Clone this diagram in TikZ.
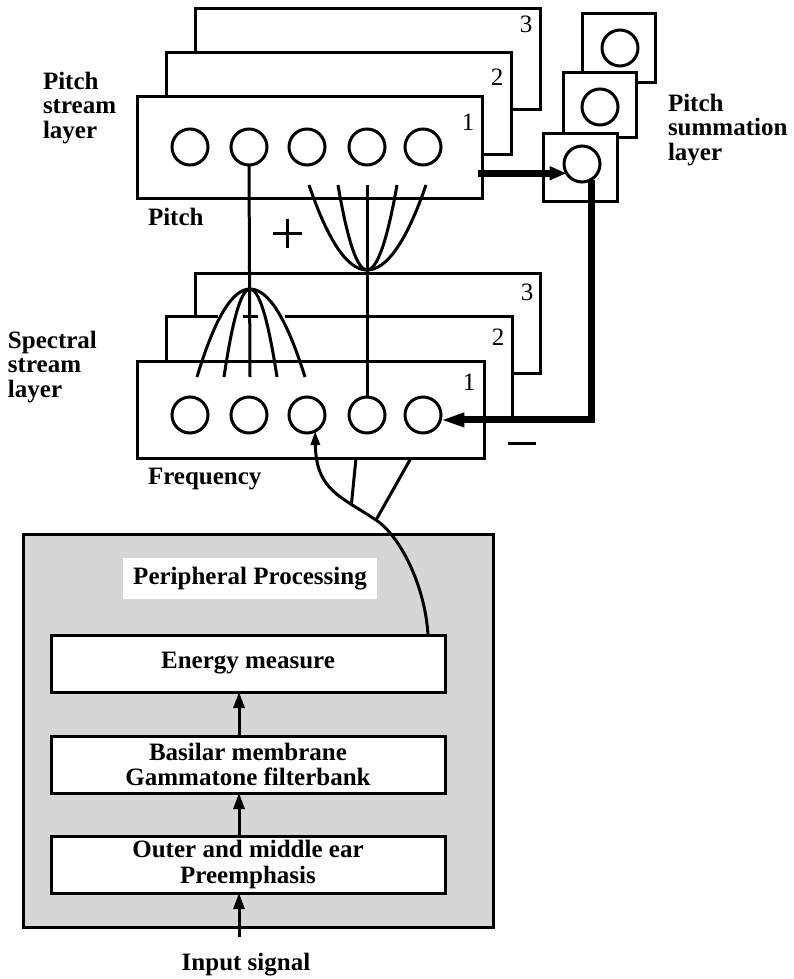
\documentclass[tikz,border=0pt]{standalone}
\usepackage{fontspec}
\setmainfont{Liberation Serif}
\usetikzlibrary{arrows.meta,calc}
\definecolor{stipple}{gray}{0.84}
\begin{document}
\begin{tikzpicture}[x=1pt,y=-1pt,line width=3pt,
  every node/.style={inner sep=0pt,outer sep=0pt},
  lbl/.style={font=\fontsize{25}{24.5}\selectfont\bfseries,align=left,anchor=north west},
  num/.style={font=\fontsize{25}{25}\selectfont},
  layer/.style 2 args={draw,fill=white,minimum width=#1,minimum height=#2},
  unit/.style={circle,draw,minimum size=36pt},
  stage/.style={draw,fill=white,minimum width=394pt,minimum height=57pt,
    font=\fontsize{25}{25.5}\selectfont\bfseries,align=center},
  fwd/.style={-{Triangle[length=16pt,width=11pt]}},
  heavy/.style={line width=7pt},
]
\useasboundingbox (0,0) rectangle (793,979);

% ---------- pitch stream layer (three stacked sheets) ----------
\node[layer={345pt}{101pt}] (pb3) at (367.5,59.5) {};
\node[layer={345pt}{101pt}] (pb2) at (338.5,103.5) {};
\node[layer={345pt}{101pt}] (pb1) at (309.5,147.5) {};
\node[num] (pn3) at (526,24) {3};
\node[num] (pn2) at (497,77) {2};
\node[num] (pn1) at (468,122) {1};
\foreach \i/\x in {1/190,2/249,3/307,4/367,5/423}
  \node[unit] (p\i) at (\x,147) {};

% ---------- pitch summation layer ----------
\node[layer={73pt}{69pt}] (ss3) at (618.5,48.5) {};
\node[layer={73pt}{64pt}] (ss2) at (599.5,105) {};
\node[layer={74pt}{68pt}] (ss1) at (580,167) {};
\node[unit] (sc3) at (620,48) {};
\node[unit] (sc2) at (600,107) {};
\node[unit] (sc1) at (582,164) {};

% ---------- spectral stream layer ----------
\node[layer={345pt}{100pt}] (sb3) at (367.5,323) {};
\node[fill=white,minimum width=346pt,minimum height=102pt] (sb2) at (339,367) {};
\draw ($(sb2.north west)+(52,0)$) -- (sb2.north west) -- (sb2.south west);
\draw ($(sb2.north west)+(77,0)$) -- ++(15,0);
\draw ($(sb2.north west)+(119,0)$) -- (sb2.north east) -- (sb2.south east) -- (sb2.south west);
\node[layer={347pt}{97pt}] (sb1) at (310.5,409.5) {};
\node[num] (sn3) at (527,292) {3};
\node[num] (sn2) at (498,337) {2};
\node[num] (sn1) at (469,382) {1};
\foreach \i/\x in {1/190,2/249,3/307,4/367,5/423}
  \node[unit] (s\i) at (\x,415) {};

% ---------- fan-in / fan-out connections ----------
% spectral fan (apex at top)
\coordinate (sfa) at (250,289);
\coordinate (sfc) at (250,377);
\draw (p2.south) -- (sfc);
\foreach \d in {-53,-26,27,55}
  \draw ($(sfa)+(\d,88)$) .. controls ($(sfa)+(2*\d/3,29.3)$) and ($(sfa)+(\d/3,0)$) .. (sfa);
% pitch fan (apex at bottom)
\coordinate (pfa) at (367,270);
\coordinate (pfc) at (367,185);
\draw (pfc) -- (s4.north);
\foreach \d in {-58,-29,30,59}
  \draw ($(pfa)+(\d,-85)$) .. controls ($(pfa)+(2*\d/3,-28.3)$) and ($(pfa)+(\d/3,0)$) .. (pfa);

% excitatory / inhibitory signs
\draw (273,233) -- (302,233) (287.5,218.5) -- (287.5,247.5);
\draw (508,443) -- (536,443);

% pitch layer to summation, summation back to spectral layer
\draw[heavy,-{Triangle[length=17pt,width=13pt]}] ($(pb1.east |- sc1.211)+(-4,0)$) -- (sc1.211);
\draw[heavy,-{Triangle[length=24pt,width=13pt]}] (sc1.-60) |- (s5.-16);

% ---------- peripheral processing ----------
\node[draw,fill=stipple,minimum width=470pt,minimum height=393pt] (per) at (258,730.5) {};
\node[font=\fontsize{25}{25}\selectfont\bfseries,anchor=base,fill=white,
  inner xsep=10pt,inner ysep=9pt] (pertitle) at (250,584) {Peripheral Processing};
\node[stage] (en) at (248,663.5) {Energy measure};
\node[stage] (bm) at (248,764.5) {Basilar membrane\\Gammatone filterbank};
\node[stage] (oe) at (248,864.5) {Outer and middle ear\\Preemphasis};
\draw[fwd] ($(oe.north)+(-9,0)$) -- ($(bm.south)+(-9,0)$);
\draw[fwd] ($(bm.north)+(-9,0)$) -- ($(en.south)+(-9,0)$);
\coordinate (inp) at (239,937);
\draw[fwd] (inp) -- (inp |- oe.south);
\node[font=\fontsize{25}{25}\selectfont\bfseries,anchor=base] (insig) at (246,970) {Input signal};

% energy output into the spectral layer
\coordinate (es) at ($(en.north east)+(-17,0)$);
\coordinate (j2) at (376,520);
\draw[-{Triangle[length=14pt,width=9pt]}] (es) .. controls (425,585) and (400,536) .. (j2)
  .. controls (340,496) and (316,490) .. (s3.-63) coordinate[pos=0.25] (j1);
\coordinate (t1) at (356,458);
\coordinate (t2) at (411,458);
\draw (t1) -- (j1);
\draw (t2) -- (j2);

% ---------- labels ----------
\node[lbl] (lps) at (43,72) {Pitch\\stream\\layer};
\node[lbl] (lss) at (8,331) {Spectral\\stream\\layer};
\node[lbl] (lsum) at (668,94) {Pitch\\summation\\layer};
\node[lbl] (lpitch) at (148,208) {Pitch};
\node[lbl] (lfreq) at (148,468) {Frequency};
\end{tikzpicture}
\end{document}
